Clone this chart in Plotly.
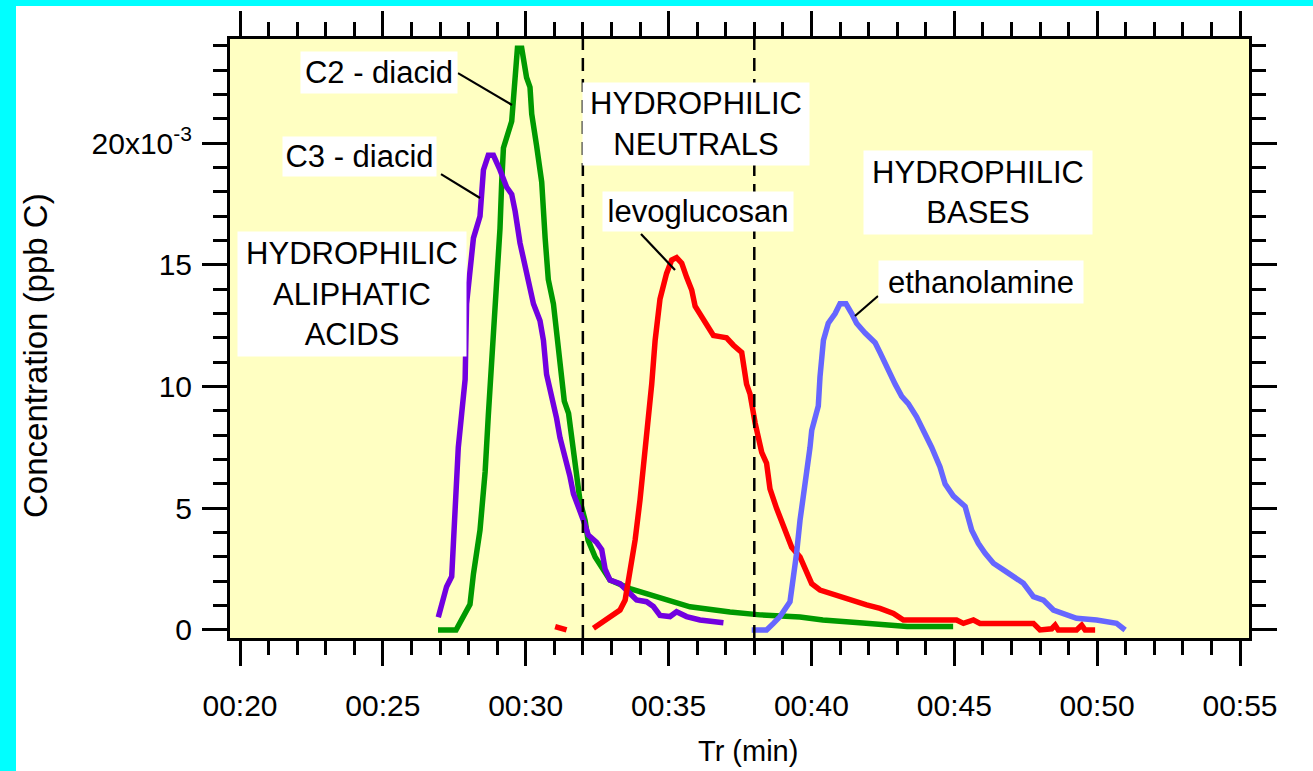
import plotly.graph_objects as go

# ---------------- data (time in minutes, concentration in ppb C x 10^-3) ----------------
c2_time = [26.93, 27.56, 28.05, 28.17, 28.40, 28.58, 28.69, 28.81, 28.98, 29.10, 29.16, 29.22,
           29.51, 29.57, 29.63, 29.71, 29.86, 30.03, 30.15, 30.21, 30.38, 30.56, 30.68, 30.79,
           30.97, 31.14, 31.26, 31.35, 31.50, 31.62, 31.73, 31.90, 32.08, 32.18, 32.43, 32.71,
           32.95, 33.65, 34.25, 34.95, 35.75, 37.15, 38.20, 39.60, 40.40, 41.80, 43.35, 44.96]
c2_conc = [0.0, 0.0, 1.05, 2.3, 4.1, 6.5, 8.8, 11.1, 13.7, 16.5, 18.4, 19.8,
           20.9, 21.9, 23.3, 23.9, 23.9, 22.7, 22.3, 21.2, 19.9, 18.4, 16.1, 14.4,
           13.4, 11.6, 10.0, 9.4, 8.9, 7.8, 6.5, 5.3, 4.5, 3.7, 3.0, 2.5,
           2.05, 1.7, 1.5, 1.23, 0.95, 0.74, 0.62, 0.53, 0.41, 0.29, 0.14, 0.14]

c3_time = [26.94, 27.12, 27.23, 27.41, 27.47, 27.56, 27.58, 27.64, 27.76, 27.88, 27.93, 28.05,
           28.17, 28.40, 28.52, 28.69, 28.87, 29.10, 29.33, 29.51, 29.63, 29.80, 29.98, 30.15,
           30.27, 30.50, 30.62, 30.73, 30.91, 31.08, 31.20, 31.32, 31.43, 31.55, 31.67, 31.84,
           32.02, 32.19, 32.48, 32.66, 32.78, 32.95, 33.30, 33.65, 33.88, 34.23, 34.47, 34.70,
           35.05, 35.28, 35.63, 36.10, 36.92]
c3_conc = [0.52, 1.23, 1.78, 2.2, 3.7, 5.07, 6.16, 7.5, 8.9, 10.3, 13.4, 14.7,
           16.1, 17.0, 18.9, 19.5, 19.5, 18.9, 18.2, 17.9, 17.2, 15.9, 15.0, 14.2,
           13.4, 12.7, 11.9, 10.5, 9.6, 8.7, 7.9, 7.4, 7.0, 6.3, 5.6, 5.1,
           4.5, 3.9, 3.6, 3.3, 2.5, 2.05, 1.9, 1.5, 1.23, 1.16, 0.96, 0.6,
           0.55, 0.75, 0.55, 0.41, 0.3]

levo_time = [31.03, 31.20, 31.43, None,
             32.37, 32.60, 32.95, 33.30, 33.48, 33.65, 33.83, 34.00, 34.12, 34.29, 34.41, 34.53,
             34.70, 34.93, 35.11, 35.28, 35.46, 35.63, 35.81, 35.93, 36.16, 36.39, 36.57, 36.80,
             37.03, 37.27, 37.56, 37.73, 37.85, 38.03, 38.26, 38.43, 38.55, 38.78, 39.08, 39.31,
             39.60, 39.78, 40.01, 40.30, 40.65, 41.00, 41.47, 41.93, 42.40, 42.87, 43.22, 45.08,
             45.32, 45.67, 45.90, 47.77, 48.00, 48.41, 48.53, 48.64, 49.28, 49.46, 49.58, 49.93]
levo_conc = [0.14, 0.10, 0.0, None,
             0.07, 0.27, 0.55, 0.82, 1.23, 2.33, 3.7, 5.34, 6.7, 8.35, 10.1, 11.9,
             13.6, 14.65, 15.2, 15.3, 15.07, 14.5, 13.97, 13.3, 12.9, 12.5, 12.1, 12.05,
             12.0, 11.7, 11.4, 10.1, 9.7, 8.5, 7.3, 6.85, 5.8, 5.0, 4.1, 3.4,
             3.0, 2.47, 1.9, 1.64, 1.5, 1.37, 1.23, 1.03, 0.89, 0.68, 0.41, 0.41,
             0.27, 0.41, 0.27, 0.27, 0.0, 0.05, 0.2, 0.0, 0.0, 0.2, 0.0, 0.0]

etha_time = [37.91, 38.43, 38.67, 38.90, 39.25, 39.37, 39.48, 39.60, 39.78, 39.95, 40.01, 40.24,
             40.30, 40.42, 40.59, 40.83, 41.00, 41.21, 41.41, 41.58, 41.88, 42.23, 42.40, 42.63,
             42.93, 43.16, 43.39, 43.68, 43.92, 44.21, 44.50, 44.68, 44.97, 45.38, 45.61, 45.84,
             46.08, 46.37, 46.72, 47.07, 47.42, 47.77, 48.12, 48.47, 48.82, 49.28, 49.98, 50.68,
             50.98]
etha_conc = [0.0, 0.0, 0.27, 0.55, 1.16, 2.05, 3.15, 4.5, 5.9, 7.5, 8.2, 9.2,
             10.4, 11.9, 12.6, 13.0, 13.4, 13.4, 13.0, 12.6, 12.2, 11.8, 11.4, 10.8,
             10.1, 9.6, 9.3, 8.76, 8.2, 7.5, 6.7, 6.0, 5.5, 5.07, 4.1, 3.56,
             3.15, 2.74, 2.47, 2.19, 1.92, 1.37, 1.23, 0.82, 0.68, 0.48, 0.41, 0.27,
             0.0]

fraction_bounds = [32, 38]          # dashed separators (min)
x_ticks = [20, 25, 30, 35, 40, 45, 50, 55]
x_ticktext = ["00:20", "00:25", "00:30", "00:35", "00:40", "00:45", "00:50", "00:55"]
y_ticks = [0, 5, 10, 15, 20]
y_ticktext = ["0", "5", "10", "15", "20x10<sup>-3</sup>"]

FONT = "Liberation Sans, Arial, sans-serif"

fig = go.Figure()
series = [
    ("C2 - diacid", c2_time, c2_conc, "#009900"),
    ("C3 - diacid", c3_time, c3_conc, "#7200E0"),
    ("levoglucosan", levo_time, levo_conc, "#FF0000"),
    ("ethanolamine", etha_time, etha_conc, "#6666FF"),
]
for name, t, c, col in series:
    fig.add_trace(go.Scatter(x=t, y=c, mode="lines", name=name,
                             line=dict(color=col, width=5.5),
                             connectgaps=False, showlegend=False, hoverinfo="skip"))

shapes = []
# cyan frame strips (left and top)
shapes.append(dict(type="rect", xref="paper", yref="paper", x0=-0.24, x1=(16 - 230) / 1019,
                   y0=-0.25, y1=1.08, fillcolor="#00FFFF", line=dict(width=0), layer="below"))
shapes.append(dict(type="rect", xref="paper", yref="paper", x0=-0.24, x1=1.08,
                   y0=(638 - 6) / 599, y1=1.08, fillcolor="#00FFFF", line=dict(width=0), layer="below"))
for xb in fraction_bounds:
    shapes.append(dict(type="line", xref="x", yref="paper", x0=xb, x1=xb, y0=0, y1=1,
                       line=dict(color="black", width=2.5, dash="13px,8px"), layer="above"))
# leader lines for labels
leaders = [((27.63, 22.88), (29.52, 21.57)),
           ((27.035, 18.73), (28.40, 17.75)),
           ((34.035, 16.27), (35.225, 14.79)),
           ((42.33, 13.72), (41.525, 12.90))]
for (xa, ya), (xb2, yb2) in leaders:
    shapes.append(dict(type="line", xref="x", yref="y", x0=xa, y0=ya, x1=xb2, y1=yb2,
                       line=dict(color="black", width=2.2)))

labels = [
    ("C2 - diacid", 24.865, 22.905, 156, 41),
    ("C3 - diacid", 24.1825, 19.453, 153, 39),
    ("HYDROPHILIC<br>ALIPHATIC<br>ACIDS", 23.92, 13.80, 228, 124),
    ("HYDROPHILIC<br>NEUTRALS", 35.96, 20.79, 226, 82),
    ("levoglucosan", 36.03, 17.19, 190, 39),
    ("HYDROPHILIC<br>BASES", 45.83, 17.97, 228, 83),
    ("ethanolamine", 45.935, 14.30, 204, 42),
]
annotations = []
for txt, x, y, w, h in labels:
    annotations.append(dict(text=txt, x=x, y=y, xref="x", yref="y", showarrow=False,
                            xanchor="center", yanchor="middle", align="center",
                            bgcolor="white", borderpad=0, width=w, height=h,
                            font=dict(family=FONT, size=31, color="black")))
annotations.append(dict(text="Concentration (ppb C)", xref="paper", yref="paper",
                        x=(35 - 230) / 1019, y=(638 - 356) / 599, showarrow=False,
                        textangle=-90, xanchor="center", yanchor="middle",
                        font=dict(family=FONT, size=33, color="black")))
annotations.append(dict(text="Tr (min)", xref="paper", yref="paper",
                        x=(748 - 230) / 1019, y=(638 - 751) / 599, showarrow=False,
                        xanchor="center", yanchor="middle",
                        font=dict(family=FONT, size=29, color="black")))

axis_common = dict(showline=True, linewidth=3, linecolor="black", mirror="ticks",
                   ticks="outside", ticklen=25, tickwidth=3, tickcolor="black",
                   showgrid=False, zeroline=False,
                   tickfont=dict(family=FONT, size=30, color="black"))

fig.update_layout(
    width=1313, height=771, autosize=False,
    margin=dict(l=230, r=64, t=39, b=133),
    paper_bgcolor="white", plot_bgcolor="#FFFFC2",
    shapes=shapes, annotations=annotations,
    xaxis=dict(range=[19.65, 55.315], tickmode="array", tickvals=x_ticks, ticktext=x_ticktext,
               ticklabelstandoff=14,
               minor=dict(ticks="outside", ticklen=14, tickwidth=2.5, tickcolor="black",
                          tickmode="array", tickvals=list(range(20, 56))),
               **axis_common),
    yaxis=dict(range=[-0.33, 24.28], tickmode="array", tickvals=y_ticks, ticktext=y_ticktext,
               ticklabelstandoff=4,
               minor=dict(ticks="outside", ticklen=14, tickwidth=2.5, tickcolor="black",
                          tickmode="array", tickvals=list(range(0, 25))),
               **axis_common),
)

fig.write_html("out.html")
